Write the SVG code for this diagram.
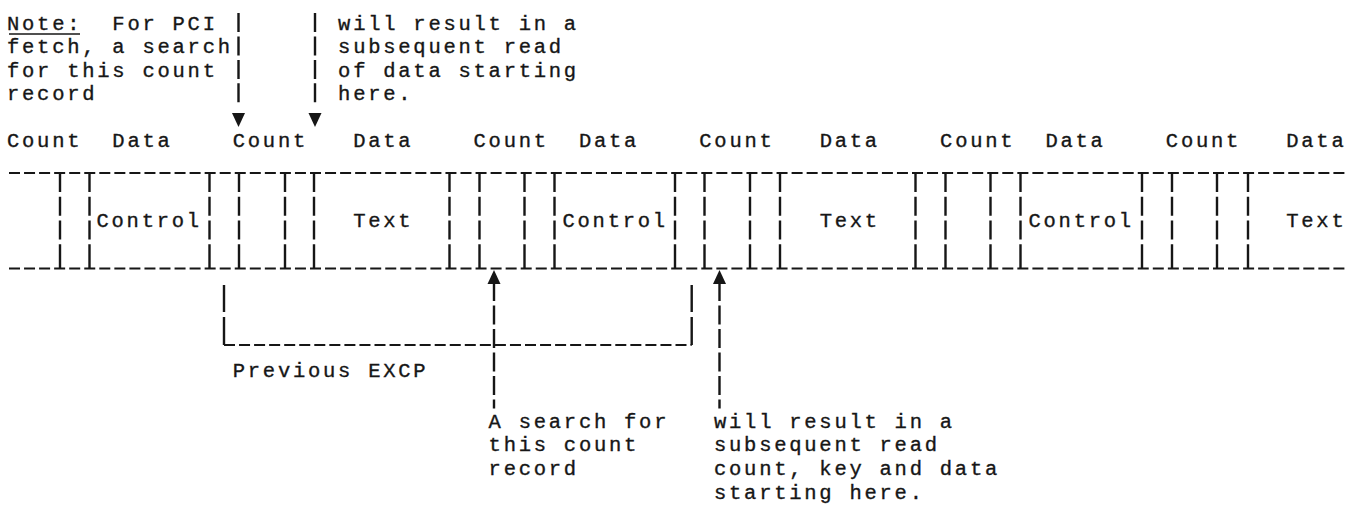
<svg xmlns="http://www.w3.org/2000/svg" xmlns:xlink="http://www.w3.org/1999/xlink" width="1364" height="505" viewBox="0 0 1364 505">
  <style>
    .t { font-family: "Liberation Mono", "DejaVu Sans Mono", monospace; font-size: 20.5px; letter-spacing: 2.75px; fill: #161616; stroke: #161616; stroke-width: 0.35; }
    .h { fill: none; stroke: #161616; stroke-width: 2.2; stroke-dasharray: 11 4.05; }
    .bar { fill: none; stroke: #161616; stroke-width: 2.4; stroke-dasharray: 19 4.75 19 4.75 19 4.75 23.75; }
    .lead { fill: none; stroke: #161616; stroke-width: 2.4; stroke-dasharray: 19 4.45; }
    .shaft { fill: none; stroke: #161616; stroke-width: 2.4; stroke-dasharray: 17 4.5 19 4.5 19 4.5 19 4.5 19 4.5 12.5; }
    .brk { fill: none; stroke: #161616; stroke-width: 2.4; stroke-dasharray: 27 5 40; }
    .head { fill: #161616; }
  </style>
  <defs>
    <polygon id="head-down" class="head" points="-6.5,0 6.5,0 0,14"/>
    <polygon id="head-up" class="head" points="0,0 -6.5,14 6.5,14"/>
  </defs>
  <rect width="1364" height="505" fill="#ffffff"/>

  <!-- upper left note -->
  <g id="note-pci">
    <text class="t" x="7" y="30">Note:</text>
    <line x1="9" y1="34" x2="80" y2="34" stroke="#161616" stroke-width="1.6"/>
    <text class="t" x="112.35" y="30">For PCI</text>
    <text class="t" x="7" y="53.45">fetch, a search</text>
    <text class="t" x="7" y="76.9">for this count</text>
    <text class="t" x="7" y="100.35">record</text>
  </g>

  <!-- upper right note -->
  <g id="note-read-data">
    <text class="t" x="338.1" y="30">will result in a</text>
    <text class="t" x="338.1" y="53.45">subsequent read</text>
    <text class="t" x="338.1" y="76.9">of data starting</text>
    <text class="t" x="338.1" y="100.35">here.</text>
  </g>

  <!-- field labels above the track -->
  <g id="field-labels">
    <text class="t" x="7" y="147.3">Count</text>
    <text class="t" x="112.35" y="147.3">Data</text>
    <text class="t" x="232.75" y="147.3">Count</text>
    <text class="t" x="353.15" y="147.3">Data</text>
    <text class="t" x="473.55" y="147.3">Count</text>
    <text class="t" x="578.9" y="147.3">Data</text>
    <text class="t" x="699.3" y="147.3">Count</text>
    <text class="t" x="819.7" y="147.3">Data</text>
    <text class="t" x="940.1" y="147.3">Count</text>
    <text class="t" x="1045.45" y="147.3">Data</text>
    <text class="t" x="1165.85" y="147.3">Count</text>
    <text class="t" x="1286.25" y="147.3">Data</text>
  </g>

  <!-- track: record fields between two dashed rules -->
  <g id="track">
    <path class="h" d="M9 173 H1346"/>
    <path class="h" d="M9 268.5 H1346"/>
    <g id="field-dividers">
      <path class="bar" d="M60 173 V268.5"/>
      <path class="bar" d="M89.5 173 V268.5"/>
      <path class="bar" d="M209.5 173 V268.5"/>
      <path class="bar" d="M239 173 V268.5"/>
      <path class="bar" d="M285 173 V268.5"/>
      <path class="bar" d="M314 173 V268.5"/>
      <path class="bar" d="M449.5 173 V268.5"/>
      <path class="bar" d="M479.5 173 V268.5"/>
      <path class="bar" d="M524.5 173 V268.5"/>
      <path class="bar" d="M554.5 173 V268.5"/>
      <path class="bar" d="M675 173 V268.5"/>
      <path class="bar" d="M704.5 173 V268.5"/>
      <path class="bar" d="M750 173 V268.5"/>
      <path class="bar" d="M780 173 V268.5"/>
      <path class="bar" d="M915.5 173 V268.5"/>
      <path class="bar" d="M945.5 173 V268.5"/>
      <path class="bar" d="M990.5 173 V268.5"/>
      <path class="bar" d="M1020.5 173 V268.5"/>
      <path class="bar" d="M1142 173 V268.5"/>
      <path class="bar" d="M1172 173 V268.5"/>
      <path class="bar" d="M1217 173 V268.5"/>
      <path class="bar" d="M1248 173 V268.5"/>
    </g>
    <text class="t" x="96.5" y="227">Control</text>
    <text class="t" x="353.15" y="227">Text</text>
    <text class="t" x="562.5" y="227">Control</text>
    <text class="t" x="819.7" y="227">Text</text>
    <text class="t" x="1028.5" y="227">Control</text>
    <text class="t" x="1286.25" y="227">Text</text>
  </g>

  <!-- bracket marking the previous channel program -->
  <g id="previous-excp">
    <path class="brk" d="M224 285 V345"/>
    <path class="brk" d="M691.7 285 V345"/>
    <path class="h" d="M224 345 H691.7"/>
    <text class="t" x="232.75" y="377">Previous EXCP</text>
  </g>

  <!-- lower notes -->
  <g id="note-search">
    <text class="t" x="488.6" y="427.5">A search for</text>
    <text class="t" x="488.6" y="451">this count</text>
    <text class="t" x="488.6" y="475">record</text>
  </g>
  <g id="note-read-ckd">
    <text class="t" x="714" y="427.5">will result in a</text>
    <text class="t" x="714" y="451">subsequent read</text>
    <text class="t" x="714" y="475">count, key and data</text>
    <text class="t" x="714" y="499">starting here.</text>
  </g>

  <!-- pointers from the notes to the track -->
  <g id="connectors">
    <path class="lead" d="M238.5 13 V102.4"/>
    <use xlink:href="#head-down" x="238.5" y="113"/>
    <path class="lead" d="M315 13 V102.4"/>
    <use xlink:href="#head-down" x="315" y="113"/>
    <use xlink:href="#head-up" x="494" y="270"/>
    <path class="shaft" d="M494 284 V408.5"/>
    <use xlink:href="#head-up" x="719.5" y="270"/>
    <path class="shaft" d="M719.5 284 V408.5"/>
  </g>
</svg>
